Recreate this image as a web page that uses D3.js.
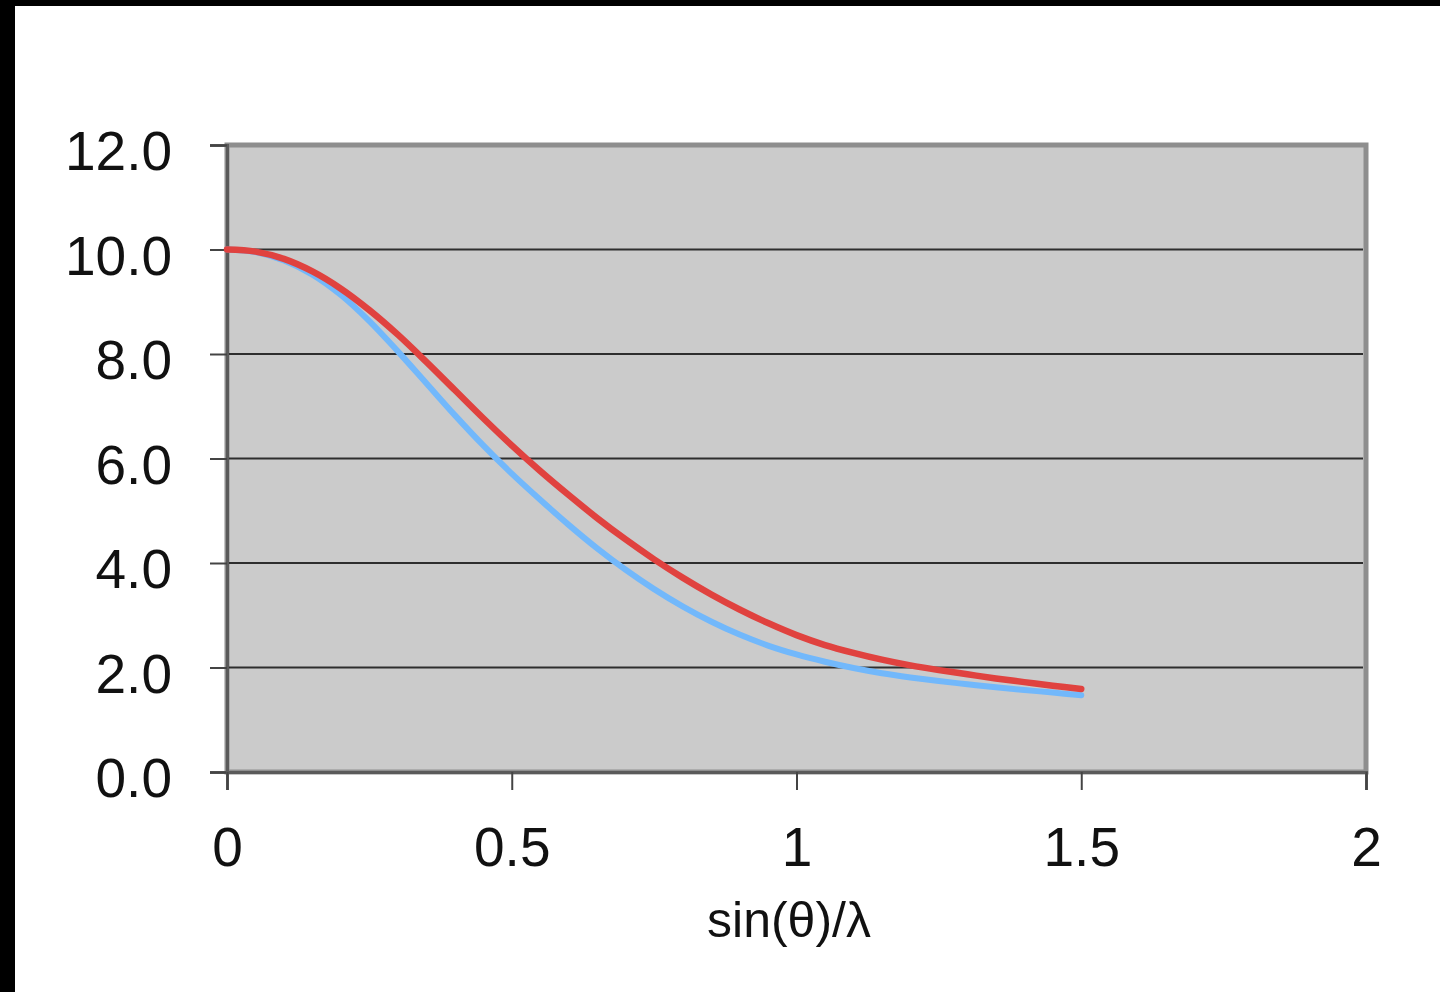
<!DOCTYPE html>
<html>
<head>
<meta charset="utf-8">
<script src="https://cdn.jsdelivr.net/npm/d3@7"></script>
<style>
  body { margin: 0; background: #fff; }
  svg { display: block; font-family: "Liberation Sans", Arial, sans-serif; }
</style>
</head>
<body>
<svg id="chart" width="1440" height="992"></svg>
<script>
// values, x = sin(theta)/lambda
var xs = [0, 0.05, 0.1, 0.15, 0.2, 0.25, 0.3, 0.35, 0.4, 0.45, 0.5,
          0.55, 0.6, 0.65, 0.7, 0.75, 0.8, 0.85, 0.9, 0.95, 1.0,
          1.05, 1.1, 1.15, 1.2, 1.25, 1.3, 1.35, 1.4, 1.45, 1.5];

var redValues = [10.00, 9.96, 9.82, 9.58, 9.25, 8.84, 8.37, 7.85, 7.31, 6.77, 6.25,
                 5.76, 5.30, 4.86, 4.45, 4.07, 3.72, 3.40, 3.11, 2.85, 2.62,
                 2.43, 2.28, 2.15, 2.04, 1.95, 1.87, 1.79, 1.72, 1.65, 1.59];

var blueValues = [10.00, 9.95, 9.79, 9.52, 9.13, 8.63, 8.05, 7.44, 6.83, 6.25, 5.71,
                  5.21, 4.73, 4.28, 3.87, 3.50, 3.17, 2.88, 2.63, 2.42, 2.25,
                  2.11, 1.99, 1.89, 1.81, 1.74, 1.68, 1.62, 1.57, 1.52, 1.47];

var xTicks = [0, 0.5, 1, 1.5, 2];
var yTicks = [0, 2, 4, 6, 8, 10, 12];
var xLabel = "sin(\u03b8)/\u03bb";

var svg = d3.select("#chart");

// black frame bits at the top and left edge of the slide
svg.append("rect").attr("x", 0).attr("y", 0).attr("width", 1440).attr("height", 6).attr("fill", "#000");
svg.append("rect").attr("x", 0).attr("y", 0).attr("width", 15).attr("height", 992).attr("fill", "#000");

var plotLeft = 227, plotRight = 1366, plotTop = 145, plotBottom = 772;

var x = d3.scaleLinear().domain([0, 2]).range([plotLeft, plotRight]);
var y = d3.scaleLinear().domain([0, 12]).range([plotBottom, plotTop]);

// plot area
svg.append("rect")
  .attr("x", plotLeft).attr("y", plotTop)
  .attr("width", plotRight - plotLeft).attr("height", plotBottom - plotTop)
  .attr("fill", "#cbcbcb")
  .attr("stroke", "#8e8e8e")
  .attr("stroke-width", 5);

// gridlines
svg.append("g")
  .selectAll("line")
  .data(yTicks.filter(function (d) { return d > 0 && d < 12; }))
  .enter().append("line")
    .attr("x1", plotLeft).attr("x2", plotRight - 3)
    .attr("y1", function (d) { return y(d); })
    .attr("y2", function (d) { return y(d); })
    .attr("stroke", "#2e2e2e")
    .attr("stroke-width", 2);

// y axis
var yAxis = svg.append("g")
  .attr("transform", "translate(" + plotLeft + ",0)")
  .call(d3.axisLeft(y).tickValues(yTicks).tickSize(17).tickPadding(38)
    .tickFormat(d3.format(".1f")));

// x axis
var xAxis = svg.append("g")
  .attr("transform", "translate(0," + plotBottom + ")")
  .call(d3.axisBottom(x).tickValues(xTicks).tickSize(18).tickPadding(37)
    .tickFormat(function (d) { return d; }));

[yAxis, xAxis].forEach(function (g) {
  g.select(".domain").attr("stroke", "#5a5a5a").attr("stroke-width", 3);
  g.selectAll(".tick line").attr("stroke", "#444").attr("stroke-width", 2);
  g.selectAll(".tick text")
    .attr("fill", "#111")
    .style("font-size", "55px")
    .style("font-family", "'Liberation Sans', Arial, sans-serif");
});
yAxis.selectAll(".tick text").attr("dy", "0.45em");
xAxis.selectAll(".tick text").attr("dy", "0.71em");

// x axis title
svg.append("text")
  .attr("x", 789)
  .attr("y", 937)
  .attr("text-anchor", "middle")
  .attr("fill", "#111")
  .style("font-size", "50px")
  .text(xLabel);

// curves
var line = d3.line()
  .x(function (d) { return x(d[0]); })
  .y(function (d) { return y(d[1]); })
  .curve(d3.curveCatmullRom);

svg.append("path")
  .datum(d3.zip(xs, blueValues))
  .attr("d", line)
  .attr("fill", "none")
  .attr("stroke", "#72b8fb")
  .attr("stroke-width", 6)
  .attr("stroke-linecap", "round");

svg.append("path")
  .datum(d3.zip(xs, redValues))
  .attr("d", line)
  .attr("fill", "none")
  .attr("stroke", "#e0423f")
  .attr("stroke-width", 6.5)
  .attr("stroke-linecap", "round");
</script>
</body>
</html>
